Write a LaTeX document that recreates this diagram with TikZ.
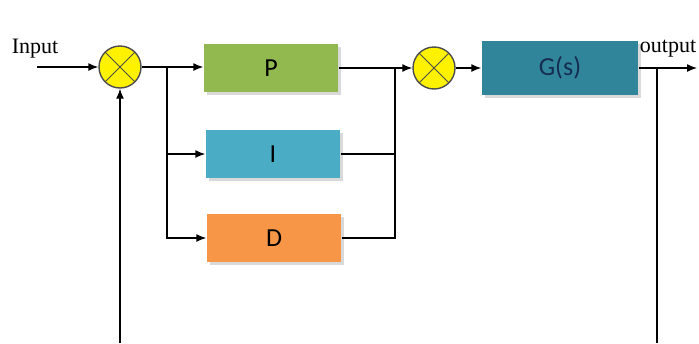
\documentclass[tikz,border=0pt]{standalone}
\usepackage{fontspec}
\setmainfont{Liberation Serif}
\newfontfamily\calfont{Carlito}
\usepackage{tikz}
\usetikzlibrary{arrows.meta,shadows,calc}

\begin{document}
\begin{tikzpicture}[x=0.5pt,y=-0.5pt,
		line width=0.7pt,
		sumnode/.style={circle,draw=black!70,fill=yellow,minimum size=21pt,inner sep=0pt,
			path picture={\draw[black!70,line width=0.5pt] (path picture bounding box.north west)--(path picture bounding box.south east)
				(path picture bounding box.north east)--(path picture bounding box.south west);}},
		blockbox/.style={rectangle,minimum width=67pt,minimum height=24pt,inner sep=0pt,
			font=\calfont\fontsize{13}{15}\selectfont,
			drop shadow={shadow xshift=1.5pt,shadow yshift=-1.5pt,opacity=0.3}},
		arr/.style={-{Latex[length=5pt,width=4pt]}}]
			\definecolor{pgreen}{RGB}{146,184,80}
			\definecolor{iblue}{RGB}{75,172,198}
			\definecolor{dorange}{RGB}{247,150,70}
			\definecolor{gteal}{RGB}{49,133,155}
			\definecolor{gtext}{RGB}{20,45,80}
				\useasboundingbox (0,0) rectangle (699,343);
				% summing points
				\node[sumnode] (sumA) at (120,67) {};
				\node[sumnode] (sumB) at (434,68) {};
				% controller blocks
				\node[blockbox,fill=pgreen] (P) at (271,68) {P};
				\node[blockbox,fill=iblue] (I) at (273,154) {I};
				\node[blockbox,fill=dorange] (D) at (274,238) {D};
				\node[blockbox,fill=gteal,text=gtext,minimum width=78pt,minimum height=27pt] (G) at (560,68) {G(s)};
				% labels
				\node[font=\fontsize{11}{13}\selectfont] (inlabel) at (35,49) {Input};
				\node[font=\fontsize{11}{13}\selectfont] (outlabel) at (668,49) {output};
				% branch and end points
				\coordinate (inStart) at (37,67);
				\coordinate (bA) at (167,67);
				\coordinate (jB) at (395,68);
				\coordinate (outEnd) at (697,68);
				\coordinate (bOut) at (657,68);
				\coordinate (fbR) at (657,343);
				\coordinate (fbL) at (120,343);
				% connectors
				\draw [arr] (inStart)-- (sumA.west);
				\draw [arr] (sumA.east)-- (sumA.east -| P.west);
				\draw [arr] (bA) |- (I.west);
				\draw [arr] (bA) |- (D.west);
				\draw (P.east)-- (jB);
				\draw (I.east) -| (jB);
				\draw (D.east) -| (jB);
				\draw [arr] (jB)-- (sumB.west);
				\draw [arr] (sumB.east)-- (G.west);
				\draw [arr] (G.east)-- (outEnd);
				\draw (bOut)-- (fbR);
				\draw [arr] (fbL)-- (sumA.south);
		\end{tikzpicture}
\end{document}
